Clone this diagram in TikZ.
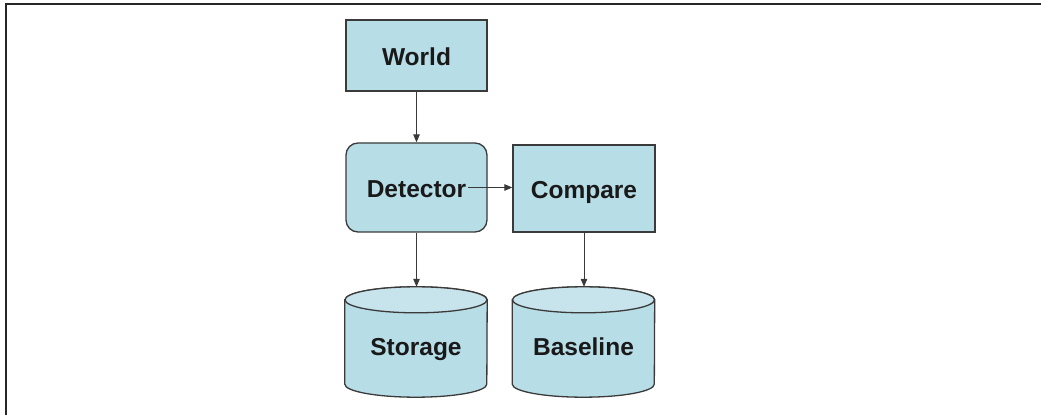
\documentclass[tikz,border=0pt]{standalone}
\usepackage{fontspec}
\setmainfont{Liberation Sans}
\usetikzlibrary{arrows.meta,calc}
\definecolor{boxfill}{HTML}{B7DDE7}
\definecolor{capfill}{HTML}{C7E3EB}
\definecolor{edge}{HTML}{3A3A3A}
\begin{document}
\begin{tikzpicture}[x=1pt,y=1pt,
  label/.style={font=\fontsize{24.5}{28}\selectfont\bfseries, text=black!90,
    text height=26pt, text depth=5pt},
  procbox/.style={draw=edge, line width=1.3pt, fill=boxfill, label},
  roundbox/.style={procbox, rounded corners=12pt},
  store/.style={minimum width=142pt, minimum height=110pt, inner sep=0pt},
  flow/.style={draw=edge, line width=1pt, -{Triangle[length=8pt,width=6.5pt]}}]
\useasboundingbox (0,0) rectangle (1041,415);
% page frame: top rule and left rule
\draw[line width=1.8pt, black!85] (6,0) -- (6,411) -- (1041,411);

% boxes
\node[procbox, minimum width=141pt, minimum height=71pt] (world) at (416.5,359.5) {World};
\node[roundbox, minimum width=141pt, minimum height=89pt] (detector) at (416.5,227.5) {Detector};
\node[procbox, minimum width=142pt, minimum height=87pt] (compare) at (584,226.5) {Compare};

% storage cylinders
\node[store] (storage) at (416,73) {};
\node[store] (baseline) at (583.5,73) {};
\foreach \c in {storage,baseline}{
  \path (\c.north west) ++(0,-13) coordinate (\c-tl)
        (\c.north east) ++(0,-13) coordinate (\c-tr)
        (\c.south west) ++(0,13) coordinate (\c-bl);
  \draw[draw=edge, line width=1.3pt, fill=boxfill]
    (\c-tl) -- (\c-bl) arc[start angle=180, end angle=360, x radius=71pt, y radius=13pt]
    -- (\c-tr) arc[start angle=0, end angle=180, x radius=71pt, y radius=13pt] -- cycle;
  \draw[draw=edge, line width=1.3pt, fill=capfill]
    ($(\c-tl)!0.5!(\c-tr)$) ellipse[x radius=71pt, y radius=13pt];
}
\node[label] (storagetext) at (416,70) {Storage};
\node[label] (baselinetext) at (583.5,70) {Baseline};

% connectors
\coordinate (detout) at (468,227.5);
\draw[flow] (world) -- (detector);
\draw[flow] (detout) -- (compare.west |- detout);
\draw[flow] (detector.south) -- (storage.north -| detector.south);
\draw[flow] (compare.south) -- (baseline.north -| compare.south);
\end{tikzpicture}
\end{document}
